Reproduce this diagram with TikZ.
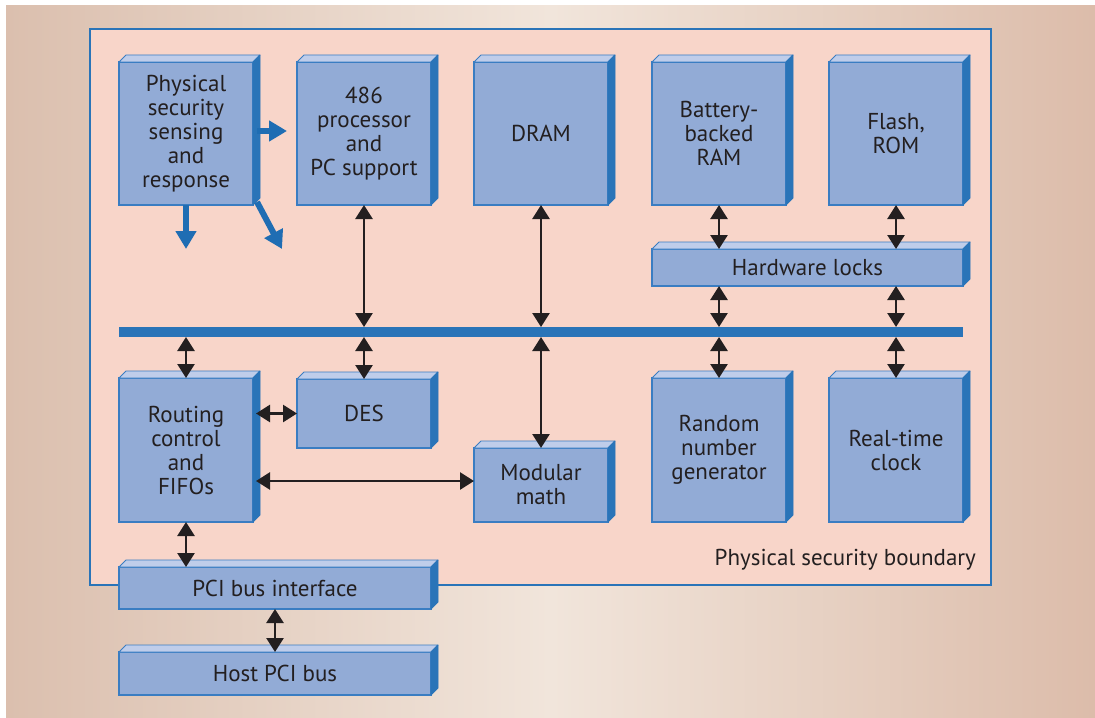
\documentclass[tikz,border=0pt]{standalone}
\usepackage{fontspec}
\setmainfont{PT Sans}
\usepackage{xcolor}
\usepackage{tikz}
\usetikzlibrary{arrows.meta}
\definecolor{frontblue}{HTML}{92ABD6}
\definecolor{topblue}{HTML}{BFCDEA}
\definecolor{sideblue}{HTML}{2A74B8}
\definecolor{edgeblue}{HTML}{3A7DC2}
\definecolor{boundfill}{HTML}{F8D5C9}
\definecolor{inktext}{HTML}{231F20}
\definecolor{bgleft}{HTML}{DBBFAE}
\definecolor{bgmid}{HTML}{F1E5DB}
\definecolor{bgright}{HTML}{DCBCAA}
\definecolor{signalblue}{HTML}{1F6DB3}
\tikzset{
  BaseBox/.style = {align=center, inner sep=2pt, outer sep=0pt, text centered, rectangle, fill=frontblue, draw=edgeblue, line width=0.6pt, text=inktext, font=\fontsize{11.5}{12}\selectfont},
  TallBox/.style = {BaseBox, minimum width=67pt, minimum height=71.5pt},
  LowBox/.style = {BaseBox, minimum width=67pt, minimum height=72pt},
  BarBox/.style = {BaseBox, minimum width=156pt, minimum height=21pt},
  BusLink/.style = {{Triangle[width=8.5pt,length=7pt]}-{Triangle[width=8.5pt,length=7pt]}, line width=1.3pt, draw=inktext},
  AlarmLink/.style = {-{Triangle[width=10pt,length=9pt]}, line width=3pt, draw=signalblue},
}

\begin{document}
\begin{tikzpicture}[x=0.5pt, y=-0.5pt]
    \useasboundingbox (0,0) rectangle (1095,717);
    \shade[left color=bgleft, right color=bgright, middle color=bgmid] (6,6) rectangle (1095,717);
    \draw[fill=boundfill, draw=sideblue, line width=0.8pt] (90,29) rectangle (991,585);
    \node[anchor=east, text=inktext, font=\fontsize{11.5}{12}\selectfont] (boundlabel) at (983,560) {Physical security boundary};

    \node [TallBox] (phys)  at (186,133.5) {Physical\\security\\sensing\\and\\response};
    \node [TallBox] (cpu)   at (364,133.5) {486\\processor\\and\\PC support};
    \node [TallBox] (dram)  at (541,133.5) {DRAM};
    \node [TallBox] (batt)  at (719,133.5) {Battery-\\backed\\RAM};
    \node [TallBox] (flash) at (896,133.5) {Flash,\\ROM};
    \node [BaseBox, minimum width=155.5pt, minimum height=18.5pt] (locks) at (807.5,267.5) {Hardware locks};
    \node [fill=sideblue, minimum width=422pt, minimum height=5pt, inner sep=0pt, outer sep=0pt] (bus) at (541,332) {};
    \node [LowBox] (routing) at (186,450) {Routing\\control\\and\\FIFOs};
    \node [BaseBox, minimum width=67pt, minimum height=34.5pt] (des) at (364,413.5) {DES};
    \node [BaseBox, minimum width=67pt, minimum height=37pt] (modmath) at (541,485) {Modular\\math};
    \node [LowBox] (rng) at (719,450) {Random\\number\\generator};
    \node [LowBox] (rtc) at (896,450) {Real-time\\clock};
    \node [BarBox] (pci)  at (275,588) {PCI bus interface};
    \node [BarBox, minimum height=21.5pt] (host) at (275,673.5) {Host PCI bus};

    \foreach \n in {phys,cpu,dram,batt,flash,locks,routing,des,modmath,rng,rtc,pci,host} {
      \filldraw[fill=topblue, draw=edgeblue, line width=0.4pt, line join=round] (\n.north west) -- ([shift={(3.5pt,3.5pt)}]\n.north west) -- ([shift={(3.5pt,3.5pt)}]\n.north east) -- (\n.north east) -- cycle;
      \filldraw[fill=sideblue, draw=sideblue, line width=0.4pt, line join=round] (\n.north east) -- ([shift={(3.5pt,3.5pt)}]\n.north east) -- ([shift={(3.5pt,3.5pt)}]\n.south east) -- (\n.south east) -- cycle;
    }

    \draw[BusLink] (cpu.south) -- (cpu.south |- bus.north);
    \draw[BusLink] (dram.south) -- (dram.south |- bus.north);
    \draw[BusLink] (batt.south) -- (locks.north -| batt.south);
    \draw[BusLink] (flash.south) -- (locks.north -| flash.south);
    \draw[BusLink] (locks.south -| batt.south) -- (bus.north -| batt.south);
    \draw[BusLink] (locks.south -| flash.south) -- (bus.north -| flash.south);
    \draw[BusLink] (bus.south -| routing.north) -- (routing.north);
    \draw[BusLink] (bus.south -| des.north) -- (des.north);
    \draw[BusLink] (bus.south -| modmath.north) -- (modmath.north);
    \draw[BusLink] (bus.south -| rng.north) -- (rng.north);
    \draw[BusLink] (bus.south -| rtc.north) -- (rtc.north);
    \draw[BusLink] ([xshift=1.5pt]des.west -| routing.east) -- (des.west);
    \draw[BusLink] ([shift={(1.5pt,2pt)}]modmath.west -| routing.east) -- ([yshift=2pt]modmath.west);
    \draw[BusLink] (routing.south) -- (pci.north -| routing.south);
    \draw[BusLink] (pci.south) -- (host.north);

    \coordinate (alarmR) at (287,131);
    \coordinate (alarmD) at (186,249);
    \coordinate (alarmS) at (282,249);
    \draw[AlarmLink] ([xshift=2pt]phys.east |- alarmR) -- (alarmR);
    \draw[AlarmLink] (phys.south) -- (alarmD);
    \draw[AlarmLink] ([shift={(2pt,1.5pt)}]phys.south east) -- (alarmS);
\end{tikzpicture}
\end{document}
